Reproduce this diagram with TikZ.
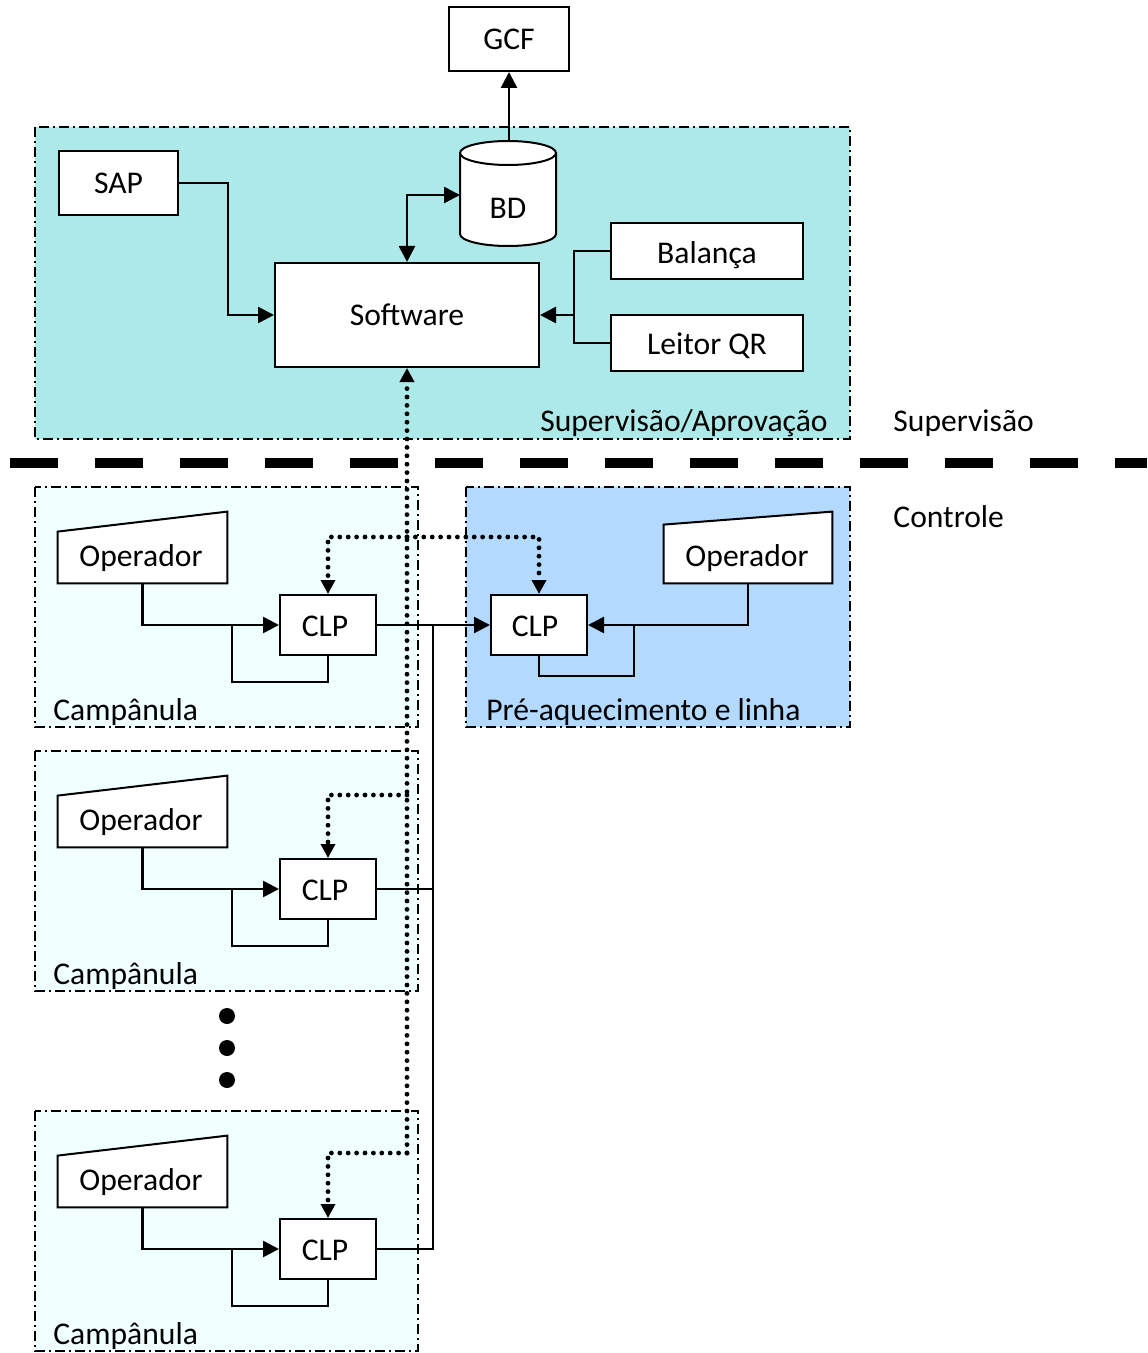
\documentclass[tikz,border=0pt]{standalone}
\usepackage{fontspec}
\setmainfont{Carlito}
\usetikzlibrary{arrows.meta}
\definecolor{supfill}{HTML}{ACE9E8}
\definecolor{campfill}{HTML}{F0FFFF}
\definecolor{prefill}{HTML}{B3D9FF}
\tikzset{
 box/.style={draw, line width=1pt, fill=white, inner sep=0pt, font=\fontsize{15.8}{19}\selectfont},
 region/.style={draw, line width=0.8pt, dash pattern=on 5pt off 2pt on 1pt off 2pt},
 conn/.style={line width=1.3pt, -{Triangle[length=8pt,width=8pt]}},
 conntwo/.style={line width=1.3pt, {Triangle[length=8pt,width=8pt]}-{Triangle[length=8pt,width=8pt]}},
 plain/.style={line width=1.3pt},
 dotconn/.style={line width=2.4pt, line cap=round, dash pattern=on 0pt off 4.2pt, -{Triangle[length=7pt,width=7pt]}},
 lbl/.style={font=\fontsize{15.8}{19}\selectfont, inner sep=0pt},
 opshape/.style={inner sep=0pt},
}
\begin{document}
\begin{tikzpicture}[x=0.5pt,y=-0.5pt]
\useasboundingbox (0,0) rectangle (1147,1353);
% regions
\draw[region, fill=supfill] (35,127) rectangle (850,439);
\draw[region, fill=prefill] (466,487) rectangle (850,727);
% separator
\draw[line width=5pt, dash pattern=on 24pt off 18.5pt] (10,463) -- (1147,463);
% top nodes
\node[box, minimum width=60pt, minimum height=32pt] (gcf) at (509,39) {GCF};
\node[box, minimum width=59.5pt, minimum height=32pt] (sap) at (118.5,183) {SAP};
\node[box, minimum width=132pt, minimum height=52pt] (sw) at (407,315) {Software};
\node[box, minimum width=96pt, minimum height=28pt] (bal) at (707,251) {};
\node[lbl, anchor=base] (balt) at (707,264) {Balança};
\node[box, minimum width=96pt, minimum height=28pt] (qr) at (707,343) {};
\node[lbl, anchor=base] (qrt) at (707,355) {Leitor QR};
% database cylinder
\draw[line width=1pt, fill=white] (460,153) -- (460,234) arc[start angle=180, end angle=360, x radius=24pt, y radius=6pt] -- (556,153) arc[start angle=0, end angle=180, x radius=24pt, y radius=6pt] -- cycle;
\draw[line width=1pt] (460,153) arc[start angle=180, end angle=360, x radius=24pt, y radius=6pt];
\node[lbl] (bd) at (508,208) {BD};
\coordinate (bdW) at (460,195);
\coordinate (bdN) at (509,141);
\coordinate (bq) at (575,315);
% top connectors
\draw[conn] (bdN) -- (gcf.south);
\draw[conn] (sap.east) -- ++(49,0) |- (sw.west);
\draw[conntwo] (bdW) -| (sw.north);
\draw[plain] (bal.west) -- ++(-36,0) |- (qr.west);
\draw[conn] (bq) -- (sw.east);
% labels
\node[lbl, anchor=base east] (supap) at (828,431) {Supervisão/Aprovação};
\node[lbl, anchor=base west] (sup) at (893,431) {Supervisão};
\node[lbl, anchor=base west] (ctl) at (893,527) {Controle};
% campanula groups
\foreach \o/\i in {0/1,264/2,624/3} {
 \draw[region, fill=campfill] (35,{487+\o}) rectangle (418,{727+\o});
 \node[lbl, anchor=base west] (camp\i) at (53,{720+\o}) {Campânula};
 \node[opshape, minimum width=84.5pt, minimum height=25.5pt] (op\i) at (142.5,{557.5+\o}) {};
 \draw[line width=1pt, fill=white] (op\i.south west) -- (op\i.north west) -- ([yshift=10pt]op\i.north east) -- (op\i.south east) -- cycle;
 \node[lbl] (opt\i) at (141,{558+\o}) {Operador};
 \node[box, minimum width=48pt, minimum height=30pt] (clp\i) at (328,{625+\o}) {};
 \node[lbl] (clpt\i) at (325,{626+\o}) {CLP};
 \draw[conn] (op\i.south) |- (clp\i.west);
 \draw[plain] (clp\i.south) -- ++(0,26) -| (232,{625+\o});
}
% pre-aquecimento
\node[lbl, anchor=base west] (pre) at (486,720) {Pré-aquecimento e linha};
\node[opshape, minimum width=84pt, minimum height=29pt] (opR) at (748,554) {};
\draw[line width=1pt, fill=white] (opR.south west) -- (opR.north west) -- ([yshift=6.5pt]opR.north east) -- (opR.south east) -- cycle;
\node[lbl] (optR) at (747,558) {Operador};
\node[box, minimum width=48pt, minimum height=30pt] (clpP) at (539,625) {};
\node[lbl] (clptP) at (535,626) {CLP};
\draw[conn] (opR.south) |- (clpP.east);
\draw[plain] (clpP.south) -- ++(0,20) -| (634,625);
% solid bus
\coordinate (bus) at (433,625);
\draw[conn] (clp1.east) -- (clpP.west);
\draw[plain] (clp2.east) -| (bus);
\draw[plain] (clp3.east) -| (bus);
% dotted links
\coordinate (d1) at (407,537);
\coordinate (d2) at (407,795);
\coordinate (d3) at (407,1153);
\draw[dotconn] (d3) -- (sw.south);
\draw[dotconn] (d1) -| (clp1.north);
\draw[dotconn] (d1) -| (clpP.north);
\draw[dotconn] (d2) -| (clp2.north);
\draw[dotconn] (d3) -| (clp3.north);
% ellipsis dots
\fill (227,1016) circle[radius=4pt];
\fill (227,1048) circle[radius=4pt];
\fill (227,1080) circle[radius=4pt];
\end{tikzpicture}
\end{document}
